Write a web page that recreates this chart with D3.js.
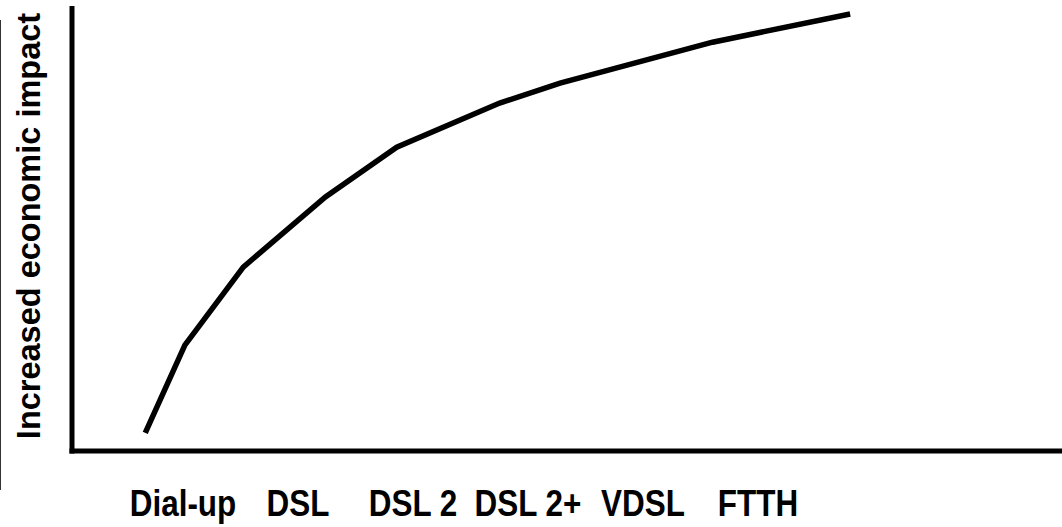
<!DOCTYPE html>
<html><head><meta charset="utf-8">
<script src="https://cdn.jsdelivr.net/npm/d3@7"></script>
<style>html,body{margin:0;padding:0;background:#fff;}svg{display:block;}</style>
</head><body>
<script>
const categories = ["Dial-up", "DSL", "DSL 2", "DSL 2+", "VDSL", "FTTH"];
const curveX = [7.4, 11.4, 17.3, 25.6, 32.8, 43.2, 49.3, 64.7, 78.6];
const curveY = [4.1, 24.0, 41.7, 57.6, 68.9, 78.9, 83.4, 92.7, 99.1];
const yLabel = "Increased economic impact";

const W = 1062, H = 527;
const svg = d3.select("body").append("svg").attr("width", W).attr("height", H);

const x = d3.scaleLinear().domain([0, 100]).range([72, 1062]);
const y = d3.scaleLinear().domain([0, 100]).range([451, 10]);
const xc = d3.scalePoint().domain(categories).range([183, 758]);

// thin left border line
svg.append("line").attr("x1", 0.5).attr("x2", 0.5).attr("y1", 20).attr("y2", 490)
  .attr("stroke", "#333").attr("stroke-width", 1);

// axes
svg.append("line").attr("x1", 72).attr("x2", 72).attr("y1", 6).attr("y2", 453.5)
  .attr("stroke", "#000").attr("stroke-width", 5);
svg.append("line").attr("x1", 69.5).attr("x2", 1062).attr("y1", 451).attr("y2", 451)
  .attr("stroke", "#000").attr("stroke-width", 5);

// curve
const pts = curveX.map((v, i) => [v, curveY[i]]);
svg.append("path").datum(pts)
  .attr("d", d3.line().x(d => x(d[0])).y(d => y(d[1])))
  .attr("fill", "none").attr("stroke", "#000").attr("stroke-width", 5.5)
  .attr("stroke-linejoin", "miter");

// category labels
svg.selectAll("text.cat").data(categories).enter().append("text")
  .attr("class", "cat")
  .attr("transform", d => `translate(${xc(d)},516) scale(0.85,1)`)
  .attr("text-anchor", "middle")
  .attr("font-family", "Liberation Sans, Arial, sans-serif")
  .attr("font-weight", "bold").attr("font-size", 37)
  .attr("fill", "#000").text(d => d);

// y label
svg.append("text")
  .attr("transform", "translate(40,226) rotate(-90)")
  .attr("text-anchor", "middle")
  .attr("font-family", "Liberation Sans, Arial, sans-serif")
  .attr("font-weight", "bold").attr("font-size", 32.5)
  .attr("fill", "#000").text(yLabel);
</script>
</body></html>
